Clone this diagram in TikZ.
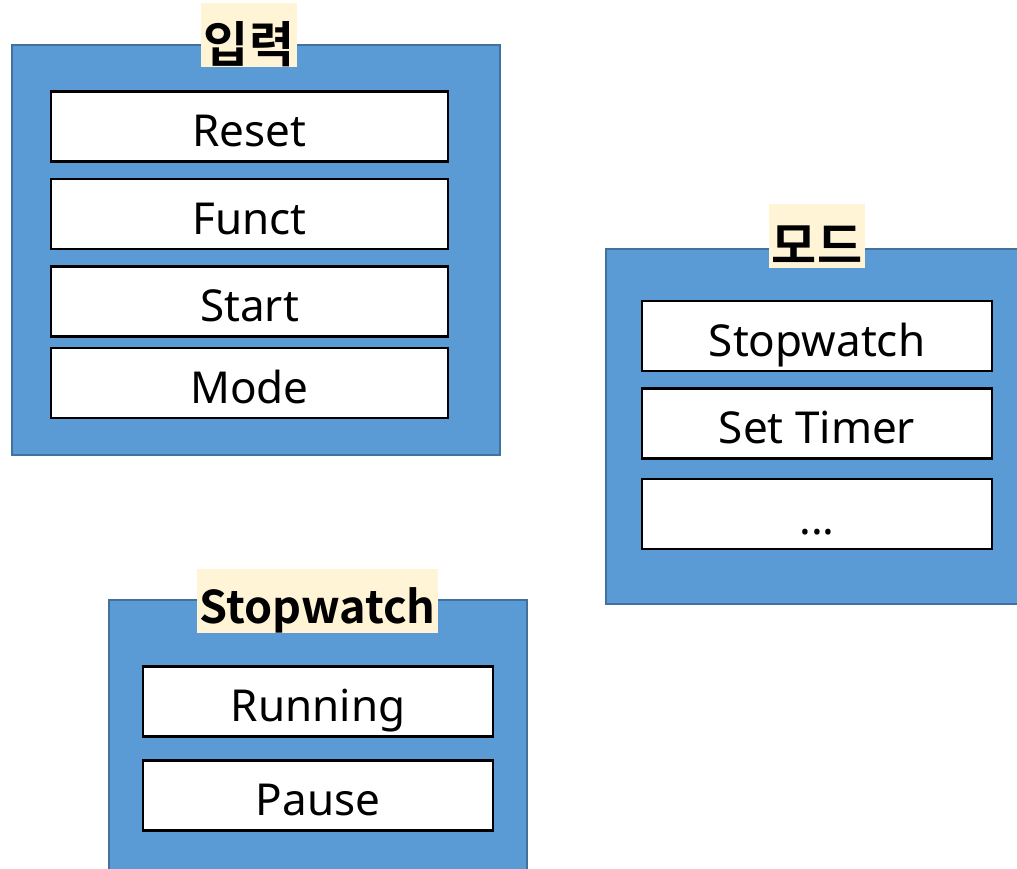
\documentclass[tikz,border=0pt]{standalone}
\usepackage{fontspec}
\setmainfont{Noto Sans}
\newfontfamily\krfont{Noto Sans CJK KR}[BoldFont={Noto Sans CJK KR Bold}]
\usetikzlibrary{positioning}

\definecolor{panelblue}{HTML}{5B9BD5}
\definecolor{paneledge}{HTML}{41719C}
\definecolor{tagbg}{HTML}{FFF4D6}

\tikzset{
  panel/.style={draw=paneledge, line width=2pt, fill=panelblue, inner sep=0pt},
  item/.style={draw=black, line width=2.6pt, fill=white, inner sep=0pt,
    font=\fontsize{44}{50}\selectfont, text height=40pt, text depth=0pt},
  tag/.style={fill=tagbg, inner sep=0pt, minimum height=64pt,
    font=\krfont\fontsize{45}{50}\selectfont\bfseries},
  krtag/.style={tag, font=\krfont\fontsize{49}{54}\selectfont\bfseries,
    text height=55pt, text depth=0pt},
}

\begin{document}
\begin{tikzpicture}[x=1pt,y=-1pt]
\useasboundingbox (0,0) rectangle (1017,869);

% input panel
\node[panel, minimum width=488pt, minimum height=410pt] (inp) at (256,250) {};
\node[item, minimum width=397pt, minimum height=70pt] (reset) at (249.5,126.5) {Reset};
\node[item, minimum width=397pt, minimum height=70pt] (funct) at (249.5,214) {Funct};
\node[item, minimum width=397pt, minimum height=70pt] (start) at (249.5,301.5) {Start};
\node[item, minimum width=397pt, minimum height=70pt] (mode) at (249.5,383) {Mode};
\node[krtag, minimum width=96pt] (inptag) at (249,35) {입력};

% mode panel (runs off the right edge)
\node[panel, minimum width=420pt, minimum height=355pt] (modep) at (816,426.5) {};
\node[item, minimum width=350pt, minimum height=70pt] (sw) at (817,336) {Stopwatch};
\node[item, minimum width=350pt, minimum height=70pt] (settimer) at (817,423.5) {Set Timer};
\node[item, minimum width=350pt, minimum height=70pt] (more) at (817,514) {...};
\node[krtag, minimum width=96pt] (modetag) at (817,236) {모드};

% stopwatch panel (runs off the bottom edge)
\node[panel, minimum width=418pt, minimum height=290pt] (swp) at (318,745) {};
\node[item, minimum width=350pt, minimum height=70pt] (running) at (318,701.5) {Running};
\node[item, minimum width=350pt, minimum height=70pt] (pause) at (318,795.5) {Pause};
\node[tag, minimum width=241pt, text height=44pt, text depth=0pt] (swtag) at (317.5,601) {Stopwatch};
\end{tikzpicture}
\end{document}
